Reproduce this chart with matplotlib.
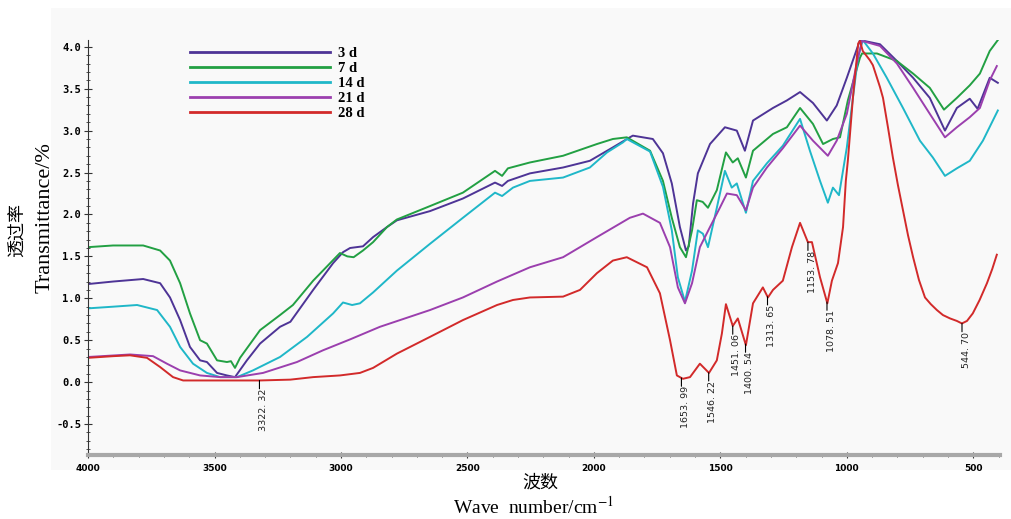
import numpy as np
import matplotlib
matplotlib.use("Agg")
import matplotlib.pyplot as plt
from matplotlib.patches import Rectangle
from matplotlib.ticker import MultipleLocator

plt.rcParams['mathtext.fontset'] = 'stix'

# ---- data (wave number, transmittance) ----
d3_wn = [4000, 3901, 3782, 3715, 3676, 3636, 3597, 3557, 3530, 3490, 3451, 3419, 3372, 3320, 3241, 3200,
         3110, 3031, 2992, 2964, 2913, 2873, 2818, 2779, 2648, 2518, 2391, 2363, 2340, 2253, 2122, 2016,
         1925, 1858, 1846, 1767, 1727, 1692, 1660, 1636, 1625, 1608, 1589, 1541, 1482, 1435, 1403, 1371,
         1292, 1237, 1185, 1134, 1079, 1040, 1000, 948, 869, 802, 738, 672, 612, 565, 514, 483, 435, 403]
d3_t = [1.17, 1.20, 1.23, 1.18, 1.01, 0.74, 0.42, 0.26, 0.24, 0.11, 0.08, 0.06, 0.26, 0.46, 0.66, 0.72,
        1.10, 1.42, 1.55, 1.60, 1.62, 1.73, 1.85, 1.93, 2.04, 2.19, 2.38, 2.34, 2.40, 2.49, 2.56, 2.64,
        2.80, 2.92, 2.94, 2.90, 2.73, 2.37, 1.85, 1.57, 1.62, 2.13, 2.49, 2.84, 3.04, 3.00, 2.76, 3.12,
        3.27, 3.36, 3.46, 3.33, 3.12, 3.30, 3.63, 4.08, 4.03, 3.83, 3.63, 3.39, 3.00, 3.27, 3.38, 3.26, 3.63, 3.57]

d7_wn = [4000, 3901, 3782, 3715, 3676, 3636, 3597, 3557, 3530, 3490, 3451, 3435, 3419, 3399, 3320, 3241,
         3190, 3110, 3004, 2975, 2950, 2913, 2873, 2818, 2779, 2648, 2518, 2391, 2363, 2340, 2253, 2122,
         1988, 1925, 1870, 1778, 1727, 1692, 1660, 1636, 1612, 1593, 1570, 1549, 1514, 1478, 1451, 1431,
         1399, 1371, 1292, 1237, 1185, 1134, 1094, 1055, 1027, 996, 948, 940, 881, 802, 738, 672, 616,
         565, 514, 474, 435, 403]
d7_t = [1.61, 1.63, 1.63, 1.57, 1.45, 1.18, 0.82, 0.50, 0.46, 0.26, 0.24, 0.25, 0.17, 0.29, 0.62, 0.80,
        0.92, 1.21, 1.54, 1.50, 1.49, 1.57, 1.67, 1.85, 1.94, 2.10, 2.26, 2.52, 2.46, 2.55, 2.62, 2.70,
        2.84, 2.90, 2.92, 2.76, 2.40, 1.96, 1.61, 1.49, 1.81, 2.17, 2.15, 2.08, 2.29, 2.74, 2.62, 2.67,
        2.44, 2.76, 2.96, 3.04, 3.27, 3.08, 2.84, 2.90, 2.92, 3.36, 3.87, 3.92, 3.92, 3.83, 3.68, 3.51, 3.25,
        3.39, 3.54, 3.68, 3.95, 4.08]

d14_wn = [4000, 3901, 3806, 3727, 3676, 3636, 3585, 3530, 3478, 3411, 3348, 3241, 3134, 3031, 2992, 2956,
          2925, 2873, 2779, 2648, 2518, 2391, 2363, 2320, 2253, 2122, 2016, 1948, 1885, 1870, 1778, 1727,
          1692, 1668, 1640, 1612, 1589, 1569, 1549, 1514, 1482, 1455, 1435, 1399, 1371, 1316, 1253, 1185,
          1146, 1106, 1075, 1055, 1031, 1000, 976, 956, 937, 897, 842, 778, 711, 660, 612, 565, 514, 462, 403]
d14_t = [0.88, 0.90, 0.92, 0.86, 0.66, 0.42, 0.22, 0.11, 0.06, 0.06, 0.14, 0.30, 0.54, 0.82, 0.95, 0.92,
         0.94, 1.07, 1.33, 1.65, 1.96, 2.26, 2.22, 2.32, 2.40, 2.44, 2.56, 2.74, 2.86, 2.90, 2.75, 2.33,
         1.81, 1.25, 0.96, 1.33, 1.81, 1.77, 1.61, 2.08, 2.52, 2.32, 2.37, 2.02, 2.40, 2.61, 2.82, 3.14,
         2.76, 2.40, 2.14, 2.32, 2.23, 2.80, 3.39, 3.87, 4.08, 3.92, 3.63, 3.27, 2.88, 2.68, 2.46, 2.55, 2.64, 2.88, 3.24]

d21_wn = [4000, 3834, 3743, 3688, 3636, 3557, 3478, 3411, 3308, 3174, 3071, 2964, 2846, 2648, 2518, 2383,
          2253, 2122, 1988, 1858, 1806, 1739, 1699, 1668, 1640, 1612, 1581, 1541, 1502, 1474, 1435, 1399,
          1371, 1316, 1253, 1185, 1134, 1075, 1040, 1000, 961, 940, 869, 802, 738, 672, 612, 565, 514, 474,
          435, 407]
d21_t = [0.30, 0.33, 0.31, 0.22, 0.14, 0.08, 0.06, 0.06, 0.11, 0.24, 0.38, 0.51, 0.66, 0.86, 1.01, 1.20,
         1.37, 1.49, 1.73, 1.96, 2.01, 1.90, 1.61, 1.13, 0.94, 1.18, 1.61, 1.85, 2.08, 2.25, 2.23, 2.05,
         2.32, 2.56, 2.79, 3.06, 2.88, 2.70, 2.88, 3.20, 3.80, 4.07, 4.01, 3.80, 3.51, 3.20, 2.92, 3.04, 3.16, 3.27,
         3.60, 3.77]

d28_wn = [4000, 3900, 3834, 3767, 3715, 3664, 3624, 3500, 3322, 3200, 3110, 3004, 2925, 2873, 2779, 2648,
          2518, 2383, 2320, 2253, 2122, 2055, 1988, 1925, 1870, 1790, 1739, 1699, 1672, 1648, 1620, 1581,
          1545, 1514, 1494, 1478, 1451, 1431, 1399, 1371, 1332, 1312, 1292, 1253, 1217, 1185, 1154, 1138,
          1106, 1077, 1059, 1035, 1015, 1004, 996, 976, 955, 948, 937, 909, 897, 869, 857, 838, 818, 798,
          778, 758, 738, 715, 691, 668, 644, 620, 592, 565, 545, 525, 502, 475, 446, 425, 407]
d28_t = [0.29, 0.31, 0.32, 0.29, 0.18, 0.06, 0.02, 0.02, 0.02, 0.03, 0.06, 0.08, 0.11, 0.17, 0.34, 0.54,
         0.74, 0.92, 0.98, 1.01, 1.02, 1.10, 1.30, 1.45, 1.49, 1.37, 1.06, 0.50, 0.08, 0.04, 0.06, 0.22,
         0.11, 0.26, 0.58, 0.93, 0.67, 0.76, 0.44, 0.94, 1.13, 1.01, 1.10, 1.21, 1.61, 1.90, 1.67, 1.67,
         1.25, 0.94, 1.21, 1.42, 1.85, 2.40, 2.64, 3.39, 4.04, 4.07, 3.95, 3.84, 3.78, 3.52, 3.39, 3.05, 2.68, 2.35,
         2.05, 1.75, 1.49, 1.22, 1.01, 0.93, 0.86, 0.80, 0.76, 0.73, 0.70, 0.73, 0.82, 0.98, 1.18, 1.35, 1.52]

series_names = ['3 d', '7 d', '14 d', '21 d', '28 d']
series_wn = [d3_wn, d7_wn, d14_wn, d21_wn, d28_wn]
series_t = [d3_t, d7_t, d14_t, d21_t, d28_t]
colors = ['#4e3496', '#22a043', '#1fb7c8', '#9b3fae', '#d22a2a']

# peaks marked on the 28 d curve
peak_wn = [3322.32, 1653.99, 1546.22, 1451.06, 1400.54, 1313.65, 1153.78, 1078.51, 544.70]
peak_txt = ['3322. 32', '1653. 99', '1546. 22', '1451. 06', '1400. 54', '1313. 65', '1153. 78', '1078. 51', '544. 70']

fig = plt.figure(figsize=(10.12, 5.19), dpi=100)
bg = Rectangle((0.05, 0.094), 0.95, 0.891, transform=fig.transFigure,
               facecolor='#f9f9f9', edgecolor='none', zorder=-10)
fig.add_artist(bg)
ax = fig.add_axes([0.087, 0.1233, 0.901, 0.800])
ax.set_facecolor('#f9f9f9')

for name, wn, t, c in zip(series_names, series_wn, series_t, colors):
    ax.plot(wn, t, color=c, lw=1.4, label=name)

# peak labels
rx = np.array(d28_wn[::-1], dtype=float)
ry = np.array(d28_t[::-1], dtype=float)
for p, s in zip(peak_wn, peak_txt):
    py = np.interp(p, rx, ry)
    ax.annotate('', xy=(p, py), xytext=(0, -6), textcoords='offset points',
                arrowprops=dict(arrowstyle='-', color='black', lw=0.8, shrinkA=0, shrinkB=0))
    ax.annotate(s, xy=(p, py), xytext=(3, -6), textcoords='offset points',
                rotation=90, ha='center', va='top', fontsize=6.8, color='#222222')

ax.set_xlim(4000, 395)
ax.set_ylim(-0.869, 4.083)
ax.xaxis.set_major_locator(MultipleLocator(500))
ax.xaxis.set_minor_locator(MultipleLocator(100))
ax.yaxis.set_major_locator(MultipleLocator(0.5))
ax.yaxis.set_minor_locator(MultipleLocator(0.1))
ax.yaxis.set_major_formatter(plt.FuncFormatter(lambda v, p: '%.1f' % v))

for s in ['top', 'right']:
    ax.spines[s].set_visible(False)
ax.spines['left'].set_color('#333333')
ax.spines['left'].set_linewidth(0.8)
ax.spines['bottom'].set_color('#a8a8a8')
ax.spines['bottom'].set_linewidth(3)

ax.tick_params(axis='y', which='major', direction='inout', length=6, width=0.8, color='#333333',
               labelsize=7.5, pad=2)
ax.tick_params(axis='y', which='minor', direction='inout', length=3, width=0.6, color='#333333')
ax.tick_params(axis='x', which='major', direction='inout', length=5, width=0.8, color='#333333',
               labelsize=6.5, pad=4)
ax.tick_params(axis='x', which='minor', direction='inout', length=3, width=0.6, color='#333333')
for lab in ax.get_yticklabels():
    lab.set_fontfamily('DejaVu Sans Mono')
    lab.set_fontweight('bold')
for lab in ax.get_xticklabels():
    lab.set_fontweight('bold')

leg = ax.legend(loc='upper left', bbox_to_anchor=(0.112, 0.983), frameon=False,
                handlelength=9.6, handletextpad=0.55, labelspacing=0.13, borderpad=0, borderaxespad=0,
                prop={'family': 'Liberation Serif', 'weight': 'bold', 'size': 10.5})
for h in leg.get_lines():
    h.set_linewidth(2)

fig.text(0.018, 0.557, '透过率', rotation=90, ha='center', va='center', fontsize=13,
         family=['Noto Sans CJK SC', 'DejaVu Sans'])
fig.text(0.045, 0.58, 'Transmittance/%', rotation=90, ha='center', va='center', fontsize=16,
         family='Liberation Serif')
fig.text(0.534, 0.07, '波数', ha='center', va='center', fontsize=13,
         family=['Noto Sans CJK SC', 'DejaVu Sans'])
fig.text(0.527, 0.023, 'Wave  number/cm$^{-1}$', ha='center', va='center', fontsize=14,
         family='Liberation Serif')

fig.savefig('out.png', dpi=100)
